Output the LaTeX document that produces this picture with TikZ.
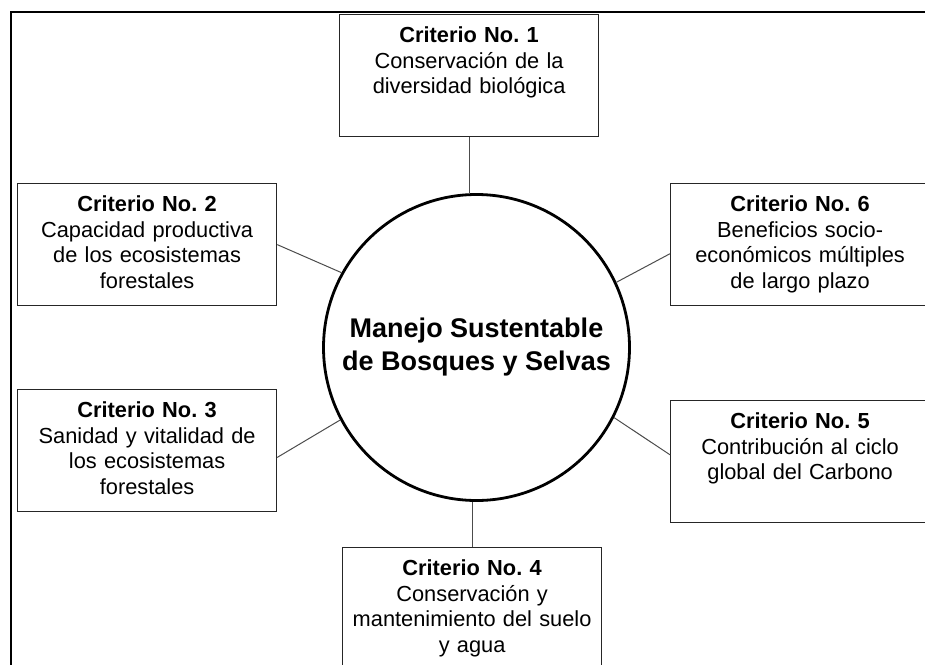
\documentclass[tikz,border=0pt]{standalone}
\usepackage{fontspec}
\setmainfont{Liberation Sans}
\frenchspacing

\begin{document}
\begin{tikzpicture}[x=1pt,y=-1pt,
  crit/.style={draw=black!85,line width=1.2pt,anchor=north west,minimum width=259pt,minimum height=122pt,
    inner sep=0pt,text width=255pt,align=center,text height=28pt,text depth=94pt,
    font=\fontsize{21.8}{25.5}\selectfont},
  hub/.style={circle,draw,line width=2.8pt,minimum size=306pt,inner sep=0pt,
    align=center,font=\fontsize{27}{33}\selectfont\bfseries},
  conn/.style={draw=black!70,line width=1pt}]
  \useasboundingbox (0,0) rectangle (925,664);
  \clip (0,0) rectangle (925,664);
  \draw[line width=2pt] (11,690) |- (950,12);
  \node[hub] (c) at (476.5,347.5) {Manejo Sustentable\\de Bosques y Selvas};
  \node[crit] (b1) at (339,14) {\textbf{Criterio No. 1}\\Conservación de la\\diversidad biológica};
  \node[crit] (b2) at (17,183) {\textbf{Criterio No. 2}\\Capacidad productiva\\de los ecosistemas\\forestales};
  \node[crit] (b3) at (17,389) {\textbf{Criterio No. 3}\\Sanidad y vitalidad de\\los ecosistemas\\forestales};
  \node[crit] (b4) at (342,547) {\textbf{Criterio No. 4}\\Conservación y\\mantenimiento del suelo\\y agua};
  \node[crit] (b5) at (670,400) {\textbf{Criterio No. 5}\\Contribución al ciclo\\global del Carbono};
  \node[crit] (b6) at (670,183) {\textbf{Criterio No. 6}\\Beneficios socio-\\económicos múltiples\\de largo plazo};
  \path[conn]
    (b1.south) edge (b1.south |- c.north)
    (b2.east)  edge (c.151)
    (b3.357)   edge (c.208.6)
    (b4.north) edge (b4.north |- c.south)
    (b5.177)   edge (c.333.7)
    (b6.184)   edge (c.25.8);
\end{tikzpicture}
\end{document}
